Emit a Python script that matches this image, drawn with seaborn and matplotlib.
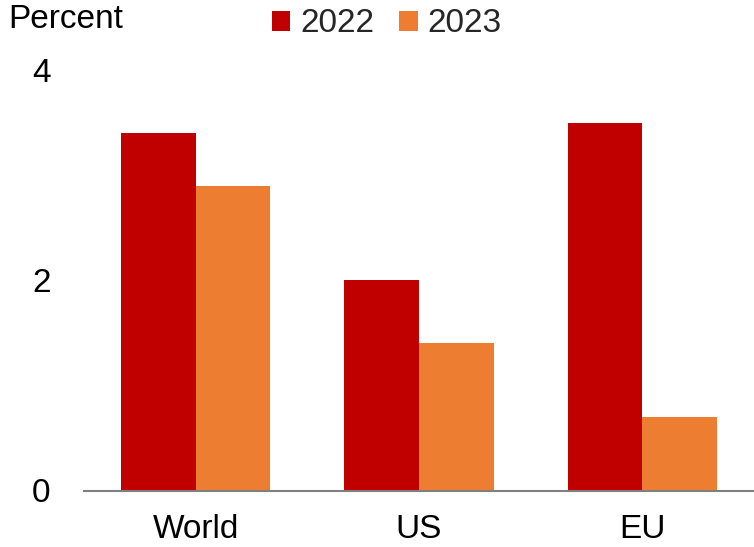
import matplotlib
matplotlib.use("Agg")
import matplotlib.pyplot as plt
import seaborn as sns
import pandas as pd
from matplotlib.patches import Patch

categories = ["World", "US", "EU"]
years = ["2022", "2023"]
values_2022 = [3.40, 2.00, 3.50]
values_2023 = [2.90, 1.40, 0.70]
colors = {"2022": "#C00000", "2023": "#ED7D31"}

df = pd.DataFrame({
    "region": categories * 2,
    "year": ["2022"] * 3 + ["2023"] * 3,
    "value": values_2022 + values_2023,
})

sns.set_theme(style="white")
plt.rcParams["font.family"] = ["Liberation Sans", "DejaVu Sans"]

fig = plt.figure(figsize=(7.54, 5.47), dpi=100)
ax = fig.add_axes([84 / 754, (547 - 490.5) / 547, 1 - 84 / 754, (490.5 - 70) / 547])

sns.barplot(data=df, x="region", y="value", hue="year", order=categories,
            hue_order=years, palette=colors, width=0.67, gap=0,
            saturation=1, ax=ax, legend=False, linewidth=0)

ax.set_xlim(-0.5, 2.5)
ax.set_ylim(0, 4)
ax.set_yticks([0, 2, 4])
ax.set_yticklabels(["0", "2", "4"])
ax.set_xlabel("")
ax.set_ylabel("")
for s in ["top", "right", "left"]:
    ax.spines[s].set_visible(False)
ax.spines["bottom"].set_color("#7f7f7f")
ax.spines["bottom"].set_linewidth(1.5)
ax.spines["bottom"].set_zorder(5)
ax.tick_params(axis="y", length=0, pad=24, labelsize=24, labelcolor="#000000")
ax.tick_params(axis="x", length=0, pad=17, labelsize=24, labelcolor="#000000")
for p in ax.patches:
    p.set_clip_on(False)

fig.text(8 / 754, 1 - 20 / 547, "Percent", fontsize=24, ha="left", va="center", color="#000000")

handles = [Patch(facecolor=colors[y], edgecolor="none", label=y) for y in years]
fig.legend(handles=handles, loc="center", bbox_to_anchor=(387 / 754, 1 - 24 / 547),
           ncol=2, frameon=False, fontsize=24, handlelength=0.55, handleheight=0.55,
           handletextpad=0.3, columnspacing=0.75, borderaxespad=0, borderpad=0)

fig.savefig("out.png", dpi=100)
